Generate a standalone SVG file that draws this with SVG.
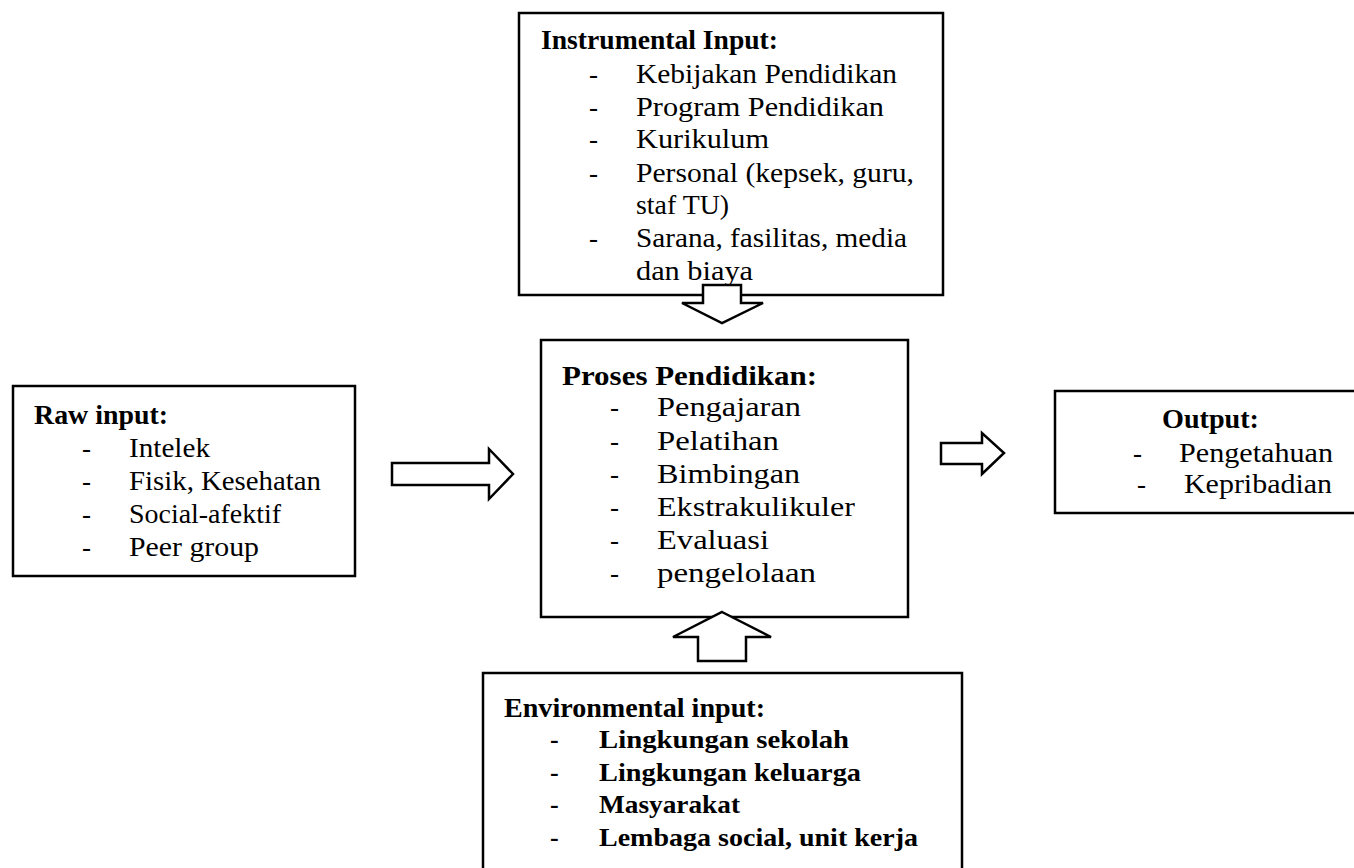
<svg xmlns="http://www.w3.org/2000/svg" width="1354" height="868" viewBox="0 0 1354 868">
<style>
.box{fill:#fff;stroke:#000;stroke-width:2.5}
.arr{fill:#fff;stroke:#000;stroke-width:2.5;stroke-linejoin:miter}
text{font-family:"Liberation Serif","Times New Roman",serif;font-size:27px;fill:#000}
.b{font-weight:bold}
.e{font-size:26px;font-weight:bold}
</style>
<rect width="1354" height="868" fill="#fff"/>
<g id="instrumental">
<rect class="box" x="519" y="13" width="424" height="282"/>
<text class="b" x="541" y="49" textLength="237" lengthAdjust="spacingAndGlyphs">Instrumental Input:</text>
<text x="589" y="83">-</text><text x="636" y="83" textLength="261" lengthAdjust="spacingAndGlyphs">Kebijakan Pendidikan</text>
<text x="589" y="116">-</text><text x="636" y="116" textLength="248" lengthAdjust="spacingAndGlyphs">Program Pendidikan</text>
<text x="589" y="148">-</text><text x="636" y="148" textLength="133" lengthAdjust="spacingAndGlyphs">Kurikulum</text>
<text x="589" y="182">-</text><text x="636" y="182" textLength="278" lengthAdjust="spacingAndGlyphs">Personal (kepsek, guru,</text>
<text x="636" y="214" textLength="93" lengthAdjust="spacingAndGlyphs">staf TU)</text>
<text x="589" y="247">-</text><text x="636" y="247" textLength="271" lengthAdjust="spacingAndGlyphs">Sarana, fasilitas, media</text>
<text x="636" y="280" textLength="117" lengthAdjust="spacingAndGlyphs">dan biaya</text>
</g>
<g id="raw">
<rect class="box" x="13" y="386" width="342" height="190"/>
<text class="b" x="34" y="424" textLength="134" lengthAdjust="spacingAndGlyphs">Raw input:</text>
<text x="82" y="457">-</text><text x="129" y="457" textLength="81" lengthAdjust="spacingAndGlyphs">Intelek</text>
<text x="82" y="490">-</text><text x="129" y="490" textLength="192" lengthAdjust="spacingAndGlyphs">Fisik, Kesehatan</text>
<text x="82" y="523">-</text><text x="129" y="523" textLength="152" lengthAdjust="spacingAndGlyphs">Social-afektif</text>
<text x="82" y="556">-</text><text x="129" y="556" textLength="130" lengthAdjust="spacingAndGlyphs">Peer group</text>
</g>
<g id="proses">
<rect class="box" x="541" y="340" width="367" height="277"/>
<text class="b" x="562" y="385" textLength="255" lengthAdjust="spacingAndGlyphs">Proses Pendidikan:</text>
<text x="610" y="416">-</text><text x="657" y="416" textLength="144" lengthAdjust="spacingAndGlyphs">Pengajaran</text>
<text x="610" y="450">-</text><text x="657" y="450" textLength="122" lengthAdjust="spacingAndGlyphs">Pelatihan</text>
<text x="610" y="483">-</text><text x="657" y="483" textLength="143" lengthAdjust="spacingAndGlyphs">Bimbingan</text>
<text x="610" y="516">-</text><text x="657" y="516" textLength="198" lengthAdjust="spacingAndGlyphs">Ekstrakulikuler</text>
<text x="610" y="549">-</text><text x="657" y="549" textLength="112" lengthAdjust="spacingAndGlyphs">Evaluasi</text>
<text x="610" y="582">-</text><text x="657" y="582" textLength="159" lengthAdjust="spacingAndGlyphs">pengelolaan</text>
</g>
<g id="output">
<rect class="box" x="1055" y="391" width="310" height="122"/>
<text class="b" x="1162" y="428" textLength="97" lengthAdjust="spacingAndGlyphs">Output:</text>
<text x="1133" y="462">-</text><text x="1179" y="462" textLength="154" lengthAdjust="spacingAndGlyphs">Pengetahuan</text>
<text x="1137" y="493">-</text><text x="1184" y="493" textLength="148" lengthAdjust="spacingAndGlyphs">Kepribadian</text>
</g>
<g id="environmental">
<rect class="box" x="483" y="673" width="479" height="210"/>
<text class="b" x="504" y="717" textLength="261" lengthAdjust="spacingAndGlyphs">Environmental input:</text>
<text class="e" x="550" y="748">-</text><text class="e" x="599" y="748" textLength="250" lengthAdjust="spacingAndGlyphs">Lingkungan sekolah</text>
<text class="e" x="550" y="781">-</text><text class="e" x="599" y="781" textLength="262" lengthAdjust="spacingAndGlyphs">Lingkungan keluarga</text>
<text class="e" x="550" y="813">-</text><text class="e" x="599" y="813" textLength="141" lengthAdjust="spacingAndGlyphs">Masyarakat</text>
<text class="e" x="550" y="846">-</text><text class="e" x="599" y="846" textLength="319" lengthAdjust="spacingAndGlyphs">Lembaga social, unit kerja</text>
</g>
<g id="connectors">
<polygon class="arr" points="703,285 741,285 741,303 763,303 722,323 682,303 703,303"/>
<polygon class="arr" points="392,463 489,463 489,449 513,474 489,499 489,485 392,485"/>
<polygon class="arr" points="941,443 982,443 982,433 1004,453 982,474 982,464 941,464"/>
<polygon class="arr" points="722,612 771,637 746,637 746,661 698,661 698,637 673,637"/>
</g>
</svg>
